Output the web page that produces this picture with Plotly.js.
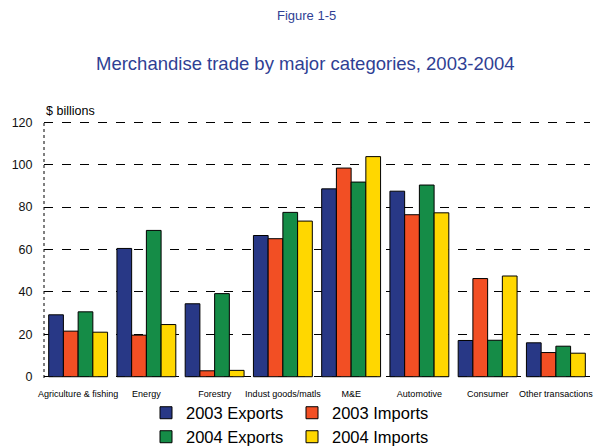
<!DOCTYPE html>
<html><head><meta charset="utf-8">
<script src="https://cdn.plot.ly/plotly-3.0.1.min.js"></script>
<style>html,body{margin:0;padding:0;background:#fff}#chart{width:595px;height:446px}</style>
</head><body><div id="chart"></div>
<script>
const categories = ["Agriculture & fishing","Energy","Forestry","Indust goods/matls","M&E","Automotive","Consumer","Other transactions"];
const exports2003 = [29.2, 60.5, 34.4, 66.6, 88.6, 87.5, 17.1, 16.0];
const imports2003 = [21.5, 19.6, 2.8, 65.1, 98.4, 76.4, 46.3, 11.4];
const exports2004 = [30.6, 69.0, 39.2, 77.5, 91.8, 90.4, 17.2, 14.4];
const imports2004 = [21.0, 24.6, 3.0, 73.4, 103.8, 77.3, 47.5, 11.1];
const seriesNames = ["2003 Exports","2003 Imports","2004 Exports","2004 Imports"];
const seriesColors = ["#283886","#f24f24","#158c47","#ffd700"];
const seriesData = [exports2003, imports2003, exports2004, imports2004];
const legendIds = ["legend","legend","legend2","legend2"];
const yTickVals = [0,20,40,60,80,100,120];

const traces = seriesData.map((vals,i)=>({
  type:'bar', x:categories, y:vals, name:seriesNames[i],
  marker:{color:seriesColors[i], line:{color:'#000', width:1}},
  legend:legendIds[i], hoverinfo:'y'
}));

const titleColor = '#2f3f94';
const legendCommon = {orientation:'h', xref:'container', yref:'container', xanchor:'left', yanchor:'middle',
  font:{family:'Liberation Sans, Arial, sans-serif', size:16.5, color:'#000'}, bgcolor:'rgba(0,0,0,0)',
  itemwidth:30, traceorder:'normal', entrywidth:101, entrywidthmode:'pixels'};

// pixel helpers for annotation placement (plot area: top 121, bottom 378, left 44, width 546)
const py = p => (378 - p) / 257;
const px = p => (p - 44) / 546;

const layout = {
  width:595, height:446,
  margin:{l:44, r:5, t:121, b:68},
  paper_bgcolor:'#fff', plot_bgcolor:'#fff',
  font:{family:'Liberation Sans, Arial, sans-serif', color:'#000'},
  barmode:'group', bargap:0.137, bargroupgap:0,
  showlegend:true,
  legend:Object.assign({}, legendCommon, {x:146/595, y:(446-413)/446}),
  legend2:Object.assign({}, legendCommon, {x:146/595, y:(446-437)/446}),
  xaxis:{type:'category', tickfont:{size:9, color:'#000'}, tickangle:0, ticks:'outside', ticklen:7,
    tickcolor:'rgba(0,0,0,0)', showline:false, showgrid:false, zeroline:false, fixedrange:true},
  yaxis:{range:[-0.6,120.6], tickvals:yTickVals, tickfont:{size:12.5, color:'#111'}, showgrid:true, gridcolor:'#000',
    griddash:'dash', gridwidth:1, zeroline:false, showline:false, ticks:'outside', ticklen:8,
    tickcolor:'rgba(0,0,0,0)', fixedrange:true},
  shapes:[{type:'line', xref:'paper', yref:'paper', x0:0, x1:0, y0:0, y1:1, line:{color:'#000', width:1, dash:'dot'}}],
  annotations:[
    {text:'Figure 1-5', xref:'paper', yref:'paper', x:px(306), y:py(16), xanchor:'center', yanchor:'middle',
      showarrow:false, font:{size:13, color:titleColor}},
    {text:'Merchandise trade by major categories, 2003-2004', xref:'paper', yref:'paper', x:px(305), y:py(64),
      xanchor:'center', yanchor:'middle', showarrow:false, font:{size:18.5, color:titleColor}},
    {text:'$ billions', xref:'paper', yref:'paper', x:0, y:py(111), xanchor:'left', yanchor:'middle',
      showarrow:false, font:{size:12.5, color:'#000'}}
  ]
};
Plotly.newPlot('chart', traces, layout, {displayModeBar:false, staticPlot:true});
</script></body></html>
